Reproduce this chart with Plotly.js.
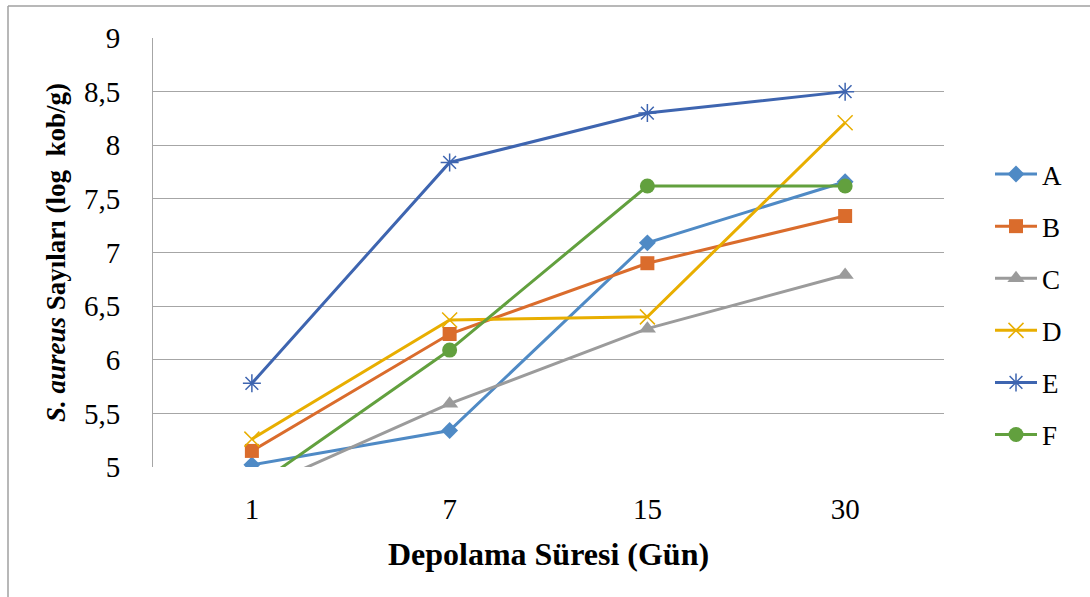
<!DOCTYPE html>
<html>
<head>
<meta charset="utf-8">
<script src="https://cdn.plot.ly/plotly-3.0.1.min.js"></script>
<style>
html,body{margin:0;padding:0;background:#fff;}
#chart{width:1090px;height:597px;}
</style>
</head>
<body>
<div id="chart"></div>
<script>
const categories = ["1", "7", "15", "30"];
const seriesNames = ["A", "B", "C", "D", "E", "F"];
const valuesA = [5.02, 5.34, 7.09, 7.66];
const valuesB = [5.15, 6.24, 6.90, 7.34];
const valuesC = [4.77, 5.59, 6.29, 6.79];
const valuesD = [5.26, 6.37, 6.40, 8.21];
const valuesE = [5.78, 7.84, 8.30, 8.50];
const valuesF = [4.80, 6.09, 7.62, 7.62];
const yTickVals = [5, 5.5, 6, 6.5, 7, 7.5, 8, 8.5, 9];
const yTickText = ["5", "5,5", "6", "6,5", "7", "7,5", "8", "8,5", "9"];

const allValues = [valuesA, valuesB, valuesC, valuesD, valuesE, valuesF];
const colors = ["#4F8AC5", "#DA6C2C", "#9B9B9B", "#E8AE00", "#3E65B0", "#62A03E"];
const symbols = ["diamond", "square", "triangle-up", "x-thin-open", "asterisk-open", "circle"];
const sizes = [13, 14, 15, 15, 15, 15];

const font = "Liberation Serif";

const traces = seriesNames.map((n, i) => ({
  type: "scatter",
  mode: "lines+markers",
  name: n,
  x: categories,
  y: allValues[i],
  legendgroup: n,
  line: {color: colors[i], width: 3},
  marker: {symbol: symbols[i], size: sizes[i], color: colors[i],
           line: {color: colors[i], width: (symbols[i].indexOf("open") >= 0) ? 1.5 : 0}},
  cliponaxis: true
}));

const L = 153, R = 146, T = 38, B = 130;
const W = 1090 - L - R, H = 597 - T - B;
const px2x = p => (p - L) / W;
const py2y = p => (597 - B - p) / H;

const layout = {
  width: 1090, height: 597,
  margin: {l: L, r: R, t: T, b: B, pad: 0},
  paper_bgcolor: "#fff", plot_bgcolor: "#fff",
  font: {family: font, color: "#000", size: 26},
  showlegend: true,
  legend: {x: px2x(990), y: py2y(150), xanchor: "left", yanchor: "top",
           font: {family: font, size: 27, color: "#000"}, tracegroupgap: 14,
           itemwidth: 42, bgcolor: "rgba(0,0,0,0)"},
  xaxis: {
    type: "category", range: [-0.5, 3.5],
    showgrid: false, zeroline: false, showline: false,
    ticks: "", ticklabelstandoff: 22,
    tickfont: {family: font, size: 29, color: "#000"},
    title: {text: "<b>Depolama Süresi (Gün)</b>", font: {family: font, size: 32, color: "#000"}, standoff: 18}
  },
  yaxis: {
    range: [5, 9], tickvals: yTickVals, ticktext: yTickText,
    showgrid: true, gridcolor: "#A6A6A6", gridwidth: 1,
    zeroline: false, showline: true, linecolor: "#A6A6A6", linewidth: 1,
    ticks: "", ticklabelstandoff: 26,
    tickfont: {family: font, size: 29, color: "#000"},
    title: {text: "<b><i>S. aureus</i> Sayıları (log&nbsp; kob/g)</b>", font: {family: font, size: 27, color: "#000"}, standoff: 10}
  },
  shapes: [
    {type: "line", xref: "paper", yref: "paper", x0: px2x(8), x1: px2x(1092), y0: py2y(6), y1: py2y(6), line: {color: "#A0A0A0", width: 1.5}},
    {type: "line", xref: "paper", yref: "paper", x0: px2x(8), x1: px2x(8), y0: py2y(6), y1: py2y(600), line: {color: "#A0A0A0", width: 1.5}}
  ]
};

function refresh() {
  const c = document.getElementById("chart");
  c.style.display = "none";
  void c.offsetHeight;
  c.style.display = "block";
  void c.offsetHeight;
}

let loads = [];
try {
  if (document.fonts && document.fonts.load) {
    loads = ['29px "Liberation Serif"', 'bold 29px "Liberation Serif"', 'italic bold 29px "Liberation Serif"']
      .map(f => document.fonts.load(f).catch(() => null));
  }
} catch (e) { loads = []; }

Plotly.newPlot("chart", traces, layout, {displayModeBar: false, staticPlot: true})
  .then(() => { refresh(); return Promise.all(loads); })
  .then(() => { refresh(); })
  .catch(() => {});
</script>
</body>
</html>
